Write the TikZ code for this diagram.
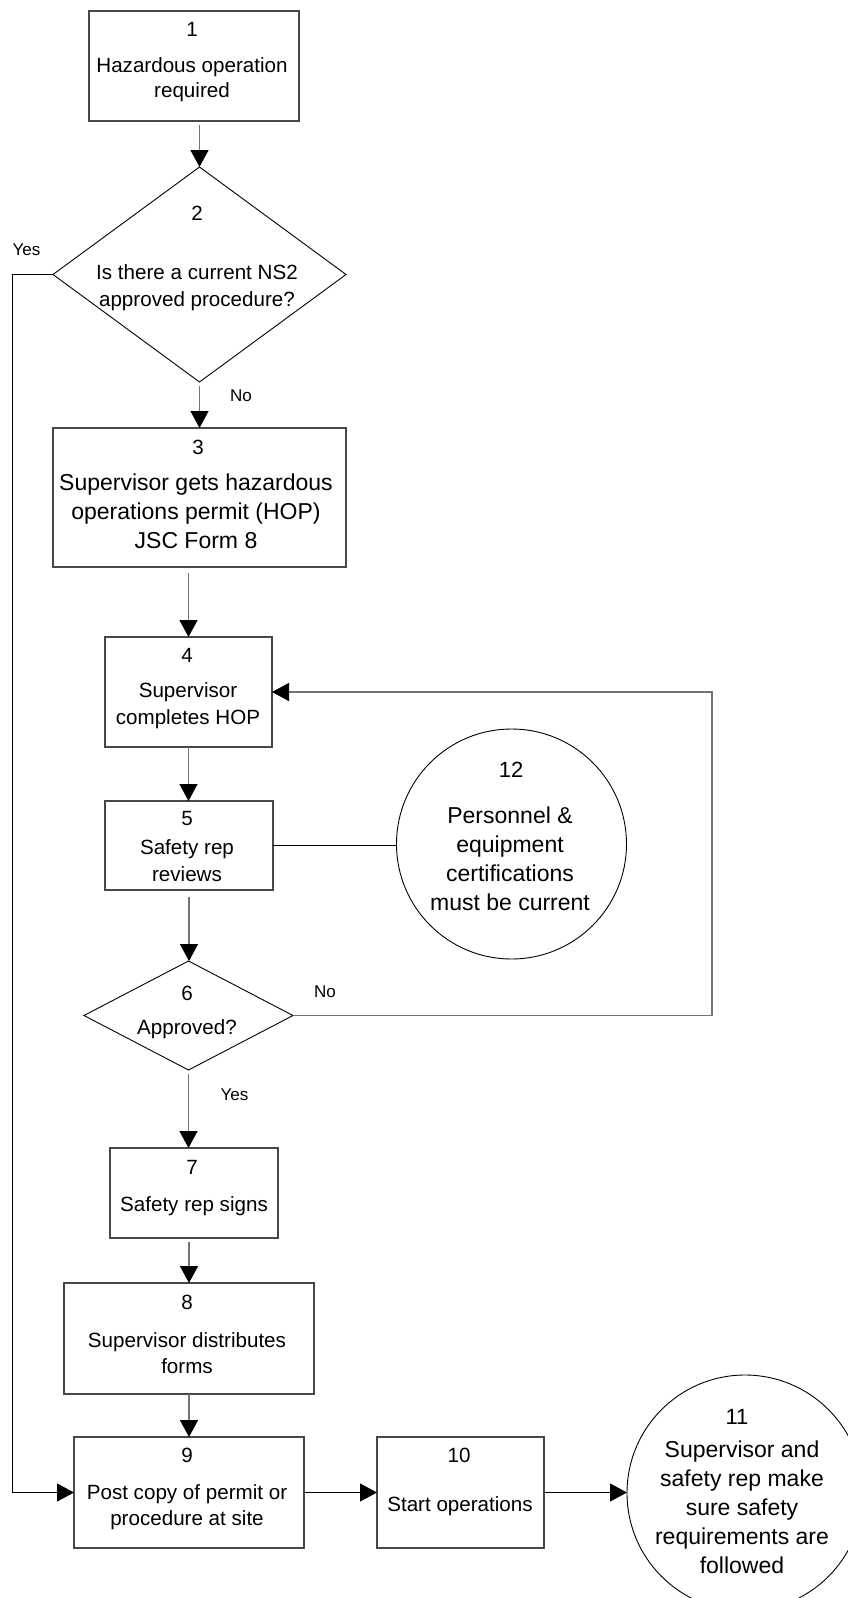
\documentclass[tikz,border=0pt]{standalone}
\usepackage{fontspec}
\setmainfont{Liberation Sans}
\usetikzlibrary{shapes.geometric,arrows.meta}
\begin{document}
\begin{tikzpicture}[x=1pt,y=-1pt,
  procbox/.style={draw=black!72, line width=1.3pt, rectangle, inner sep=0pt, outer sep=0pt},
  decbox/.style={draw=black, line width=0.9pt, diamond, inner sep=0pt, outer sep=0pt},
  roundbox/.style={draw=black, line width=0.9pt, circle, inner sep=0pt, outer sep=0pt},
  arr/.style={draw=black!55, line width=1.4pt, -{Triangle[width=18pt,length=17pt,color=black,fill=black]}},
  blkarr/.style={draw=black, line width=1pt, -{Triangle[width=18pt,length=17pt,color=black,fill=black]}},
  plainline/.style={draw=black, line width=1pt},
  num/.style={inner sep=0pt, font=\fontsize{20.6}{24}\selectfont},
  bignum/.style={inner sep=0pt, font=\fontsize{22}{26}\selectfont},
  tA/.style={align=center, inner sep=0pt, font=\fontsize{20.6}{#1}\selectfont},
  tA/.default=26.5,
  tB/.style={align=center, inner sep=0pt, font=\fontsize{23}{#1}\selectfont},
  tB/.default=29,
  lab/.style={inner sep=0pt, font=\fontsize{17}{20}\selectfont}]
\useasboundingbox[fill=white] (0,0) rectangle (847,1598);

% shapes
\node[procbox, minimum width=210, minimum height=110] (b1) at (194,66) {};
\node[decbox, minimum width=293, minimum height=215] (d2) at (199.5,274.5) {};
\node[procbox, minimum width=293, minimum height=139] (b3) at (199.5,497.5) {};
\node[procbox, minimum width=167, minimum height=110] (b4) at (188.5,692) {};
\node[procbox, minimum width=168, minimum height=89] (b5) at (189,845.5) {};
\node[roundbox, minimum size=230] (c12) at (511.5,844) {};
\node[decbox, minimum width=209, minimum height=109] (d6) at (188.5,1015.5) {};
\node[procbox, minimum width=168, minimum height=90] (b7) at (194,1193) {};
\node[procbox, minimum width=250, minimum height=111] (b8) at (189,1338.5) {};
\node[procbox, minimum width=230, minimum height=111] (b9) at (189,1492.5) {};
\node[procbox, minimum width=167, minimum height=111] (b10) at (460.5,1492.5) {};
\node[roundbox, minimum size=236] (c11) at (745,1493) {};

% texts
\node[num] (n1) at (192,29) {1};
\node[tA=25] (t1) at (192,80) {Hazardous operation\\required};
\node[num] (n2) at (197,213) {2};
\node[tA=27] (t2) at (197,288) {Is there a current NS2\\approved procedure?};
\node[num] (n3) at (198,447) {3};
\node[tB=29] (t3) at (196,511) {Supervisor gets hazardous\\operations permit (HOP)\\JSC Form 8};
\node[num] (n4) at (187,655) {4};
\node[tA=27] (t4) at (188,706) {Supervisor\\completes HOP};
\node[num] (n5) at (187,819) {5};
\node[tA=27] (t5) at (187,861) {Safety rep\\reviews};
\node[bignum] (n12) at (511,770) {12};
\node[tB=29] (t12) at (510,859) {Personnel \&\\equipment\\certifications\\must be current};
\node[num] (n6) at (187,993) {6};
\node[tA] (t6) at (187,1029) {Approved?};
\node[num] (n7) at (192,1167) {7};
\node[tA] (t7) at (194,1206) {Safety rep signs};
\node[num] (n8) at (187,1302) {8};
\node[tA=26] (t8) at (187,1353) {Supervisor distributes\\forms};
\node[num] (n9) at (187,1455) {9};
\node[tA=26] (t9) at (187,1507) {Post copy of permit or\\procedure at site};
\node[num] (n10) at (459,1455) {10};
\node[tA] (t10) at (460,1506) {Start operations};
\node[bignum] (n11) at (737,1417) {11};
\node[tB=29] (t11) at (742,1507) {Supervisor and\\safety rep make\\sure safety\\requirements are\\followed};

% labels
\node[lab] (lyes1) at (26.5,250) {Yes};
\node[lab] (lno1) at (241,396) {No};
\node[lab] (lno2) at (325,992) {No};
\node[lab] (lyes2) at (234.5,1095) {Yes};

% helper coordinates
\coordinate (yesbend) at (12,274.5);
\coordinate (fbk) at (712,1015.5);

% connectors
\draw[arr, shorten <=4pt] (b1.south -| d2.north) -- (d2.north);
\draw[arr, shorten <=4pt] (d2.south) -- (b3.north);
\draw[arr, shorten <=6pt] (b3.south -| b4.north) -- (b4.north);
\draw[arr] (b4.south) -- (b4.south |- b5.north);
\draw[arr, shorten <=7pt] (b5.south) -- (b5.south |- d6.north);
\draw[arr, shorten <=4pt] (d6.south) -- (d6.south |- b7.north);
\draw[arr, shorten <=4pt] (b7.south -| b8.north) -- (b8.north);
\draw[arr] (b8.south) -- (b9.north);
\draw[arr] (d6.east) -- (fbk) |- (b4.east);
\draw[plainline] (b5.east) -- (b5.east -| c12.west);
\draw[blkarr] (d2.west) -- (yesbend) |- (b9.west);
\draw[blkarr] (b9.east) -- (b10.west);
\draw[blkarr] (b10.east) -- (b10.east -| c11.west);
\end{tikzpicture}
\end{document}
